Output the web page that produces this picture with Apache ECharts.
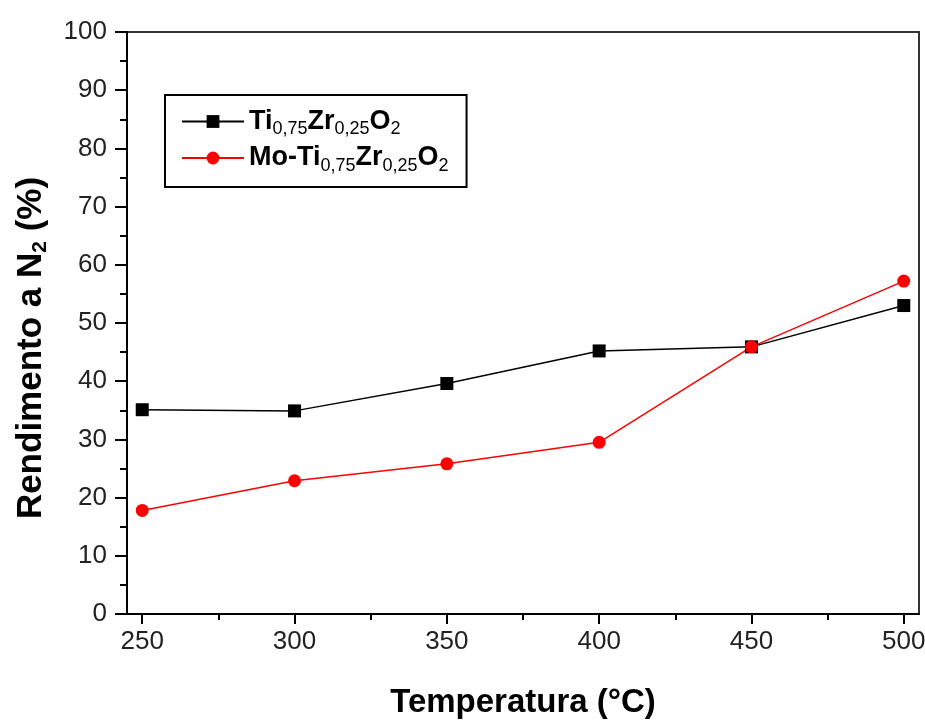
<!DOCTYPE html>
<html>
<head>
<meta charset="utf-8">
<script src="https://cdn.jsdelivr.net/npm/echarts@6/dist/echarts.min.js"></script>
<style>
  html, body { margin: 0; padding: 0; background: #fff; }
  #chart { width: 925px; height: 720px; }
</style>
</head>
<body>
<div id="chart"></div>
<script>
// data
var temps = [250, 300, 350, 400, 450, 500];
var tiZr = [35.1, 34.9, 39.6, 45.2, 45.9, 53.0];
var moTiZr = [17.8, 22.9, 25.8, 29.5, 45.9, 57.2];
var xTicks = [250, 300, 350, 400, 450, 500];
var xMinorTicks = [275, 325, 375, 425, 475];

var chart = echarts.init(document.getElementById('chart'));

function pairs(xs, ys) {
    return xs.map(function (x, i) { return [x, ys[i]]; });
}

var font = 'Liberation Sans, Arial, sans-serif';
var legendRich = {
    b: { fontFamily: font, fontSize: 27, fontWeight: 'bold', color: '#000', lineHeight: 34 },
    s: { fontFamily: font, fontSize: 18, color: '#000', lineHeight: 34, verticalAlign: 'bottom', padding: [8, 0, 0, 0] }
};

chart.setOption({
    backgroundColor: '#fff',
    animation: false,
    grid: {
        left: 127, top: 32, right: 6, bottom: 106,
        outerBoundsMode: 'none',
        containLabel: false,
        show: true, borderColor: '#333', borderWidth: 2
    },
    legend: {
        orient: 'vertical',
        left: 165, top: 95,
        width: 300,
        padding: [13, 18, 12, 16],
        borderColor: '#000', borderWidth: 2,
        itemWidth: 62, itemHeight: 16, itemGap: 6,
        data: ['Ti0,75Zr0,25O2', 'Mo-Ti0,75Zr0,25O2'],
        formatter: function (name) {
            if (name === 'Ti0,75Zr0,25O2') {
                return '{b|Ti}{s|0,75}{b|Zr}{s|0,25}{b|O}{s|2}';
            }
            return '{b|Mo-Ti}{s|0,75}{b|Zr}{s|0,25}{b|O}{s|2}';
        },
        textStyle: { rich: legendRich, padding: [0, 0, 0, 0] }
    },
    xAxis: [{
        type: 'value',
        min: 245, max: 505,
        name: 'Temperatura (°C)',
        nameLocation: 'middle',
        nameGap: 72,
        nameTextStyle: { fontFamily: font, fontSize: 33, fontWeight: 'bold', color: '#000' },
        axisLine: { show: true, lineStyle: { color: '#000', width: 2 } },
        axisTick: { show: true, inside: false, length: 10, customValues: xTicks, lineStyle: { color: '#000', width: 2 } },
        axisLabel: { customValues: xTicks, margin: 15, fontFamily: font, fontSize: 26, color: '#222' },
        splitLine: { show: false }
    }, {
        type: 'value',
        position: 'bottom',
        min: 245, max: 505,
        axisLine: { show: false },
        axisTick: { show: true, inside: false, length: 6, customValues: xMinorTicks, lineStyle: { color: '#000', width: 2 } },
        axisLabel: { show: false },
        splitLine: { show: false }
    }],
    yAxis: {
        type: 'value',
        min: 0, max: 100, interval: 10,
        name: '{t|Rendimento a N}{s|2}{t| (%)}',
        nameLocation: 'middle',
        nameGap: 76,
        nameRotate: 90,
        nameTextStyle: {
            padding: [0, 50, 0, 0],
            rich: {
                t: { fontFamily: font, fontSize: 35, fontWeight: 'bold', color: '#000', lineHeight: 40 },
                s: { fontFamily: font, fontSize: 21, fontWeight: 'bold', color: '#000', lineHeight: 40, verticalAlign: 'bottom', padding: [14, 0, 0, 0] }
            }
        },
        axisLine: { show: true, lineStyle: { color: '#000', width: 2 } },
        axisTick: { show: true, inside: false, length: 12, lineStyle: { color: '#000', width: 2 } },
        minorTick: { show: true, splitNumber: 2, length: 7, lineStyle: { color: '#000', width: 2 } },
        axisLabel: { margin: 20, fontFamily: font, fontSize: 26, color: '#222' },
        splitLine: { show: false }
    },
    series: [{
        name: 'Ti0,75Zr0,25O2',
        type: 'line',
        data: pairs(temps, tiZr),
        symbol: 'rect',
        symbolSize: 13,
        itemStyle: { color: '#000' },
        lineStyle: { color: '#000', width: 1.5 }
    }, {
        name: 'Mo-Ti0,75Zr0,25O2',
        type: 'line',
        data: pairs(temps, moTiZr),
        symbol: 'circle',
        symbolSize: 13,
        itemStyle: { color: '#ff0000' },
        lineStyle: { color: '#ff0000', width: 1.5 }
    }]
});
</script>
</body>
</html>
